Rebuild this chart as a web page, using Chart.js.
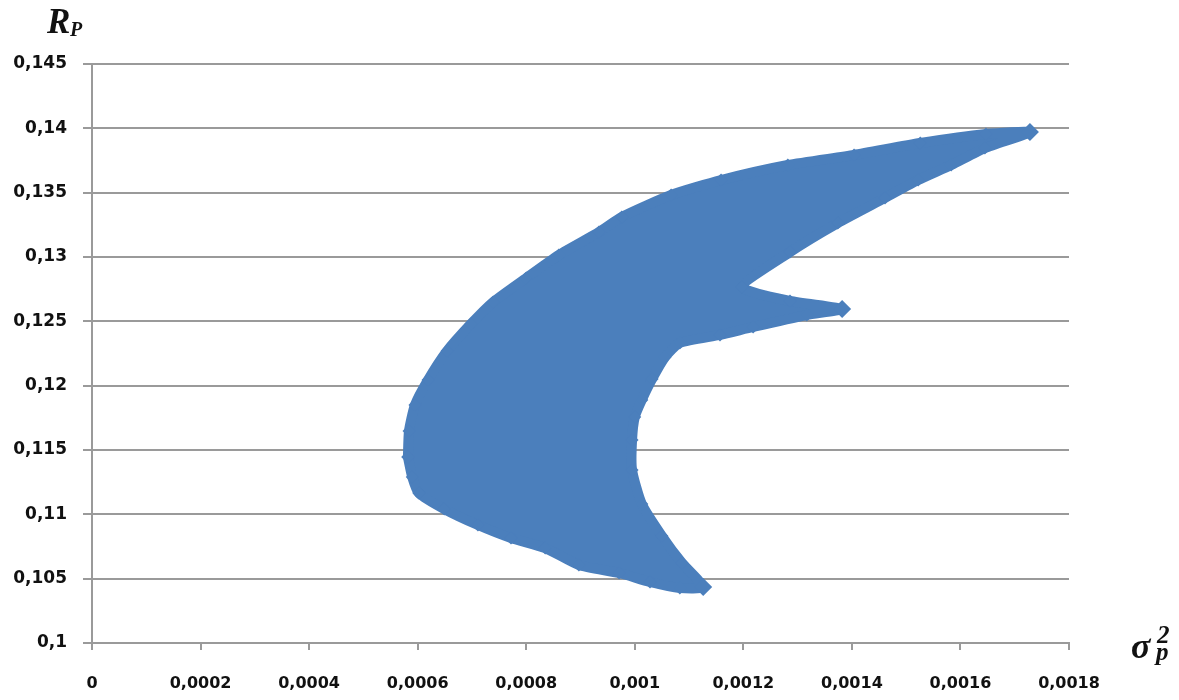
<!DOCTYPE html>
<html>
<head>
<meta charset="utf-8">
<script src="https://cdn.jsdelivr.net/npm/chart.js@4.4.1/dist/chart.umd.min.js"></script>
<style>
  body { margin: 0; background: #fff; }
  #wrap { position: relative; width: 1179px; height: 700px; }
  .lbl { position: absolute; font-family: 'Liberation Serif', serif; font-weight: bold; font-style: italic; color: #111; white-space: nowrap; }
</style>
</head>
<body>
<div id="wrap">
  <canvas id="cloud" width="1179" height="700"></canvas>
  <span class="lbl" style="left:47px;top:4px;font-size:35px;line-height:35px">R</span>
  <span class="lbl" style="left:70px;top:19px;font-size:20px;line-height:20px">P</span>
  <span class="lbl" style="left:1131px;top:628px;font-size:36px;line-height:36px">σ</span>
  <span class="lbl" style="left:1157px;top:622px;font-size:25px;line-height:25px">2</span>
  <span class="lbl" style="left:1156px;top:639px;font-size:25px;line-height:25px">p</span>
</div>
<script>
// outline of the portfolio cloud: variance (x) and expected return (y)
const varianceP = [
  0.000582, 0.000584, 0.000595, 0.000619, 0.000654, 0.000698, 0.000739, 0.000800,
  0.000860, 0.000934, 0.000976, 0.001067, 0.001159, 0.001282, 0.001404, 0.001526,
  0.001647, 0.001728,
  0.001645, 0.001583, 0.001522, 0.001461, 0.001374, 0.001286, 0.001198,
  0.001286, 0.001382,
  0.001317, 0.001218, 0.001157, 0.001083,
  0.001056, 0.001032, 0.001013, 0.001000, 0.000995, 0.000995, 0.001013, 0.001050,
  0.001087, 0.001126,
  0.001083, 0.001028, 0.000971, 0.000897, 0.000835, 0.000772, 0.000711, 0.000649,
  0.000602, 0.000590, 0.000582
];
const returnP = [
  0.11446, 0.11648, 0.11850, 0.12044, 0.12269, 0.12479, 0.12650, 0.12837,
  0.13016, 0.13194, 0.13311, 0.13482, 0.13598, 0.13715, 0.13793, 0.13886,
  0.13956, 0.13971,
  0.13847, 0.13715, 0.13598, 0.13459, 0.13264, 0.13039, 0.12767,
  0.12658, 0.12596,
  0.12549, 0.12456, 0.12394, 0.12332,
  0.12223, 0.12052, 0.11889, 0.11756, 0.11578, 0.11345, 0.11080, 0.10832,
  0.10622, 0.10435,
  0.10427, 0.10474, 0.10544, 0.10606, 0.10738, 0.10816, 0.10917, 0.11041,
  0.11166, 0.11290, 0.11446
];
// the three extreme portfolios (arm tips)
const tipIndex = [17, 26, 40];

const xTicks = [0, 0.0002, 0.0004, 0.0006, 0.0008, 0.001, 0.0012, 0.0014, 0.0016, 0.0018];
const xTickLabels = ['0', '0,0002', '0,0004', '0,0006', '0,0008', '0,001', '0,0012', '0,0014', '0,0016', '0,0018'];
const yTicks = [0.1, 0.105, 0.11, 0.115, 0.12, 0.125, 0.13, 0.135, 0.14, 0.145];
const yTickLabels = ['0,1', '0,105', '0,11', '0,115', '0,12', '0,125', '0,13', '0,135', '0,14', '0,145'];

const BLUE = '#4B7FBC';
const GRID = '#9a9a9a';

const points = varianceP.map((v, i) => ({ x: v, y: returnP[i] }));

new Chart(document.getElementById('cloud'), {
  type: 'scatter',
  data: {
    datasets: [{
      data: points,
      showLine: true,
      fill: 'shape',
      backgroundColor: BLUE,
      borderColor: BLUE,
      borderWidth: 10,
      borderJoinStyle: 'round',
      tension: 0.2,
      pointStyle: 'rectRot',
      pointRadius: ctx => tipIndex.includes(ctx.dataIndex) ? 9 : 6.5,
      pointBackgroundColor: BLUE,
      pointBorderWidth: 0
    }]
  },
  options: {
    responsive: false,
    devicePixelRatio: 1,
    animation: false,
    layout: { padding: { left: 0, right: 110, top: 64, bottom: 0 } },
    plugins: { legend: { display: false }, tooltip: { enabled: false } },
    scales: {
      x: {
        type: 'linear',
        min: 0,
        max: 0.0018,
        afterBuildTicks: axis => { axis.ticks = xTicks.map(v => ({ value: v })); },
        afterFit: axis => { axis.height = 57; },
        ticks: {
          callback: (v, i) => xTickLabels[i],
          font: { family: 'DejaVu Sans', weight: 'bold', size: 16 },
          color: '#111',
          padding: 24,
          maxRotation: 0,
          autoSkip: false
        },
        grid: { drawOnChartArea: false, drawTicks: true, tickLength: 7, color: GRID, lineWidth: 2 },
        border: { color: GRID, width: 2 }
      },
      y: {
        type: 'linear',
        min: 0.1,
        max: 0.145,
        afterBuildTicks: axis => { axis.ticks = yTicks.map(v => ({ value: v })); },
        afterFit: axis => { axis.width = 92; },
        ticks: {
          callback: (v, i) => yTickLabels[i],
          font: { family: 'DejaVu Sans', weight: 'bold', size: 17 },
          color: '#111',
          padding: 16,
          autoSkip: false
        },
        grid: { drawTicks: true, tickLength: 9, color: GRID, lineWidth: 2 },
        border: { color: GRID, width: 2 }
      }
    }
  }
});
</script>
</body>
</html>
